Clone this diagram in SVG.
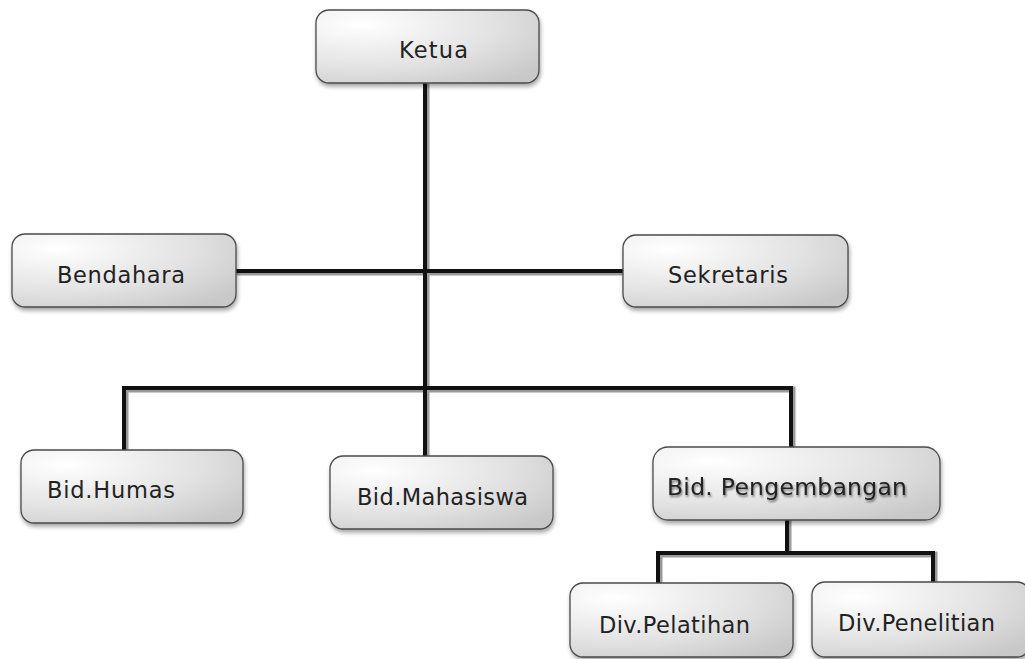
<svg xmlns="http://www.w3.org/2000/svg" width="1025" height="659" viewBox="0 0 1025 659">
<defs>
<radialGradient id="g" cx="0.2" cy="0.2" r="1" fx="0.2" fy="0.2">
<stop offset="0" stop-color="#ffffff"/>
<stop offset="0.6" stop-color="#e2e2e2"/>
<stop offset="1" stop-color="#c8c8c8"/>
</radialGradient>
<filter id="sh" x="-10%" y="-20%" width="120%" height="150%">
<feGaussianBlur in="SourceAlpha" stdDeviation="2"/>
<feOffset dx="1" dy="3" result="b"/>
<feComponentTransfer><feFuncA type="linear" slope="0.35"/></feComponentTransfer>
<feMerge><feMergeNode/><feMergeNode in="SourceGraphic"/></feMerge>
</filter>
<filter id="ts" x="-5%" y="-20%" width="110%" height="150%">
<feGaussianBlur in="SourceAlpha" stdDeviation="1.2"/>
<feOffset dx="1" dy="1.5"/>
<feComponentTransfer><feFuncA type="linear" slope="0.5"/></feComponentTransfer>
<feMerge><feMergeNode/><feMergeNode in="SourceGraphic"/></feMerge>
</filter>
</defs>
<style>
.box{fill:url(#g);stroke:#4a4a4a;stroke-width:1.3;filter:url(#sh)}
.t{font-family:"DejaVu Sans","Liberation Sans",sans-serif;font-size:22.5px;fill:#222}
.big{font-size:23.5px;filter:url(#ts)}
.sh{fill:none;stroke:#9a9a9a;stroke-width:6;stroke-linecap:square}
.ln{fill:none;stroke:#111;stroke-width:4;stroke-linecap:square}
</style>
<g id="connectors">
<g transform="translate(1.5,1.5)">
<path class="sh" d="M425 85V388M238 271H622M124 388H791M124 388V449M425 388V455M791 388V446M787 521V553M658 553H933M658 553V582M933 553V581"/>
</g>
<path class="ln" d="M425 85V388M238 271H622M124 388H791M124 388V449M425 388V455M791 388V446M787 521V553M658 553H933M658 553V582M933 553V581"/>
</g>
<g id="ketua"><rect class="box" x="316" y="10" width="223" height="73" rx="13"/><text class="t" x="399" y="58" textLength="69" lengthAdjust="spacing">Ketua</text></g>
<g id="bendahara"><rect class="box" x="12" y="234" width="224" height="73" rx="13"/><text class="t" x="57" y="283" textLength="128" lengthAdjust="spacing">Bendahara</text></g>
<g id="sekretaris"><rect class="box" x="623" y="235" width="225" height="72" rx="13"/><text class="t" x="668" y="283" textLength="120" lengthAdjust="spacing">Sekretaris</text></g>
<g id="humas"><rect class="box" x="21" y="450" width="222" height="73" rx="13"/><text class="t" x="47" y="498" textLength="128" lengthAdjust="spacing">Bid.Humas</text></g>
<g id="mahasiswa"><rect class="box" x="330" y="456" width="223" height="73" rx="13"/><text class="t" x="357" y="505" textLength="171" lengthAdjust="spacing">Bid.Mahasiswa</text></g>
<g id="pengembangan"><rect class="box" x="653" y="447" width="287" height="73" rx="15"/><text class="t big" x="667" y="495" textLength="240" lengthAdjust="spacing">Bid. Pengembangan</text></g>
<g id="pelatihan"><rect class="box" x="570" y="583" width="223" height="74" rx="13"/><text class="t" x="599" y="633" textLength="151" lengthAdjust="spacing">Div.Pelatihan</text></g>
<g id="penelitian"><rect class="box" x="812" y="582" width="218" height="75" rx="13"/><text class="t" x="838" y="631" textLength="157" lengthAdjust="spacing">Div.Penelitian</text></g>
</svg>
